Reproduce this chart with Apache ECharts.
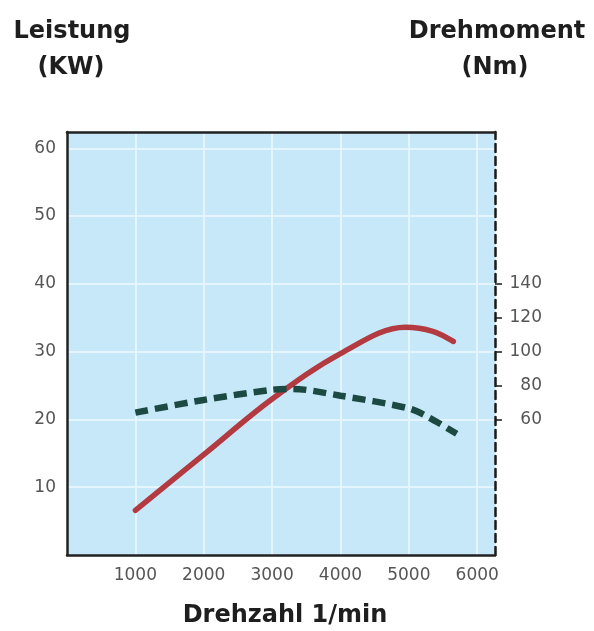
<!DOCTYPE html>
<html>
<head>
<meta charset="utf-8">
<script src="https://cdn.jsdelivr.net/npm/echarts@6/dist/echarts.min.js"></script>
<style>
  html, body { margin: 0; padding: 0; background: #fff; }
  #chart { width: 594px; height: 631px; }
</style>
</head>
<body>
<div id="chart"></div>
<script>
// Leistung (kW) über Drehzahl
var powerRpm = [1000, 2000, 3000, 4000, 4950, 5350, 5650];
var powerKw = [6.6, 14.8, 23.0, 29.7, 33.6, 33.0, 31.5];
// Drehmoment (Nm) über Drehzahl
var torqueRpm = [1000, 2000, 3000, 3300, 4000, 5000, 5300, 5700];
var torqueNm = [64, 71.5, 77.5, 78, 74, 66.5, 61, 51.5];
// Achsbeschriftungen
var rpmTicks = [1000, 2000, 3000, 4000, 5000, 6000];
var kwTicks = [10, 20, 30, 40, 50, 60];
var nmTicks = [60, 80, 100, 120, 140];

var chart = echarts.init(document.getElementById('chart'));

var labelFont = { color: '#555', fontSize: 17, fontFamily: 'DejaVu Sans' };
var titleFont = 'bold 24px "DejaVu Sans"';

chart.setOption({
    animation: false,
    grid: {
        left: 67, top: 132, right: 99, bottom: 76,
        show: true, backgroundColor: '#c6e8f8', borderWidth: 0
    },
    graphic: [
        { type: 'text', x: 72, y: 32, style: { text: 'Leistung', textAlign: 'center', textVerticalAlign: 'middle', font: titleFont, fill: '#1e1e1e' } },
        { type: 'text', x: 71, y: 68, style: { text: '(KW)', textAlign: 'center', textVerticalAlign: 'middle', font: titleFont, fill: '#1e1e1e' } },
        { type: 'text', x: 497, y: 32, style: { text: 'Drehmoment', textAlign: 'center', textVerticalAlign: 'middle', font: titleFont, fill: '#1e1e1e' } },
        { type: 'text', x: 495, y: 68, style: { text: '(Nm)', textAlign: 'center', textVerticalAlign: 'middle', font: titleFont, fill: '#1e1e1e' } },
        { type: 'text', x: 285, y: 616, style: { text: 'Drehzahl 1/min', textAlign: 'center', textVerticalAlign: 'middle', font: titleFont, fill: '#1e1e1e' } }
    ],
    xAxis: [
        {
            type: 'value', min: 0, max: 6260, interval: 1000, position: 'bottom',
            axisLine: { show: true, onZero: false, lineStyle: { color: '#222', width: 2.5 } },
            axisTick: { show: false },
            axisLabel: Object.assign({
                margin: 12, customValues: rpmTicks,
                formatter: function (v) { return String(v); }
            }, labelFont),
            splitLine: { show: true, showMinLine: false, showMaxLine: false, lineStyle: { color: '#e4f5fd', width: 2 } }
        },
        {
            type: 'value', min: 0, max: 6260, position: 'top',
            axisLine: { show: true, onZero: false, lineStyle: { color: '#222', width: 2.5 } },
            axisTick: { show: false }, axisLabel: { show: false }, splitLine: { show: false }
        }
    ],
    yAxis: [
        {
            type: 'value', min: 0, max: 62.4, interval: 10, position: 'left',
            axisLine: { show: true, onZero: false, lineStyle: { color: '#222', width: 2.5 } },
            axisTick: { show: false },
            axisLabel: Object.assign({ margin: 11, customValues: kwTicks }, labelFont),
            splitLine: { show: true, showMinLine: false, showMaxLine: false, lineStyle: { color: '#e4f5fd', width: 2 } }
        },
        {
            type: 'value', min: -20, max: 229.6, interval: 20, position: 'right',
            axisLine: { show: true, onZero: false, lineStyle: { color: '#1a1a1a', width: 2.5, type: [8, 5] } },
            axisTick: { show: true, length: 7, customValues: nmTicks, lineStyle: { color: '#1a1a1a', width: 1.5 } },
            axisLabel: Object.assign({ margin: 47, align: 'right', customValues: nmTicks }, labelFont),
            splitLine: { show: false }
        }
    ],
    series: [
        {
            name: 'Leistung', type: 'line', xAxisIndex: 0, yAxisIndex: 0,
            data: powerRpm.map(function (r, i) { return [r, powerKw[i]]; }),
            smooth: 0.35, showSymbol: false,
            lineStyle: { color: '#b23a40', width: 5.5, cap: 'round' }
        },
        {
            name: 'Drehmoment', type: 'line', xAxisIndex: 0, yAxisIndex: 1,
            data: torqueRpm.map(function (r, i) { return [r, torqueNm[i]]; }),
            smooth: 0.3, showSymbol: false,
            lineStyle: { color: '#1c4a42', width: 6.5, type: [13, 7] }
        }
    ]
});
</script>
</body>
</html>
